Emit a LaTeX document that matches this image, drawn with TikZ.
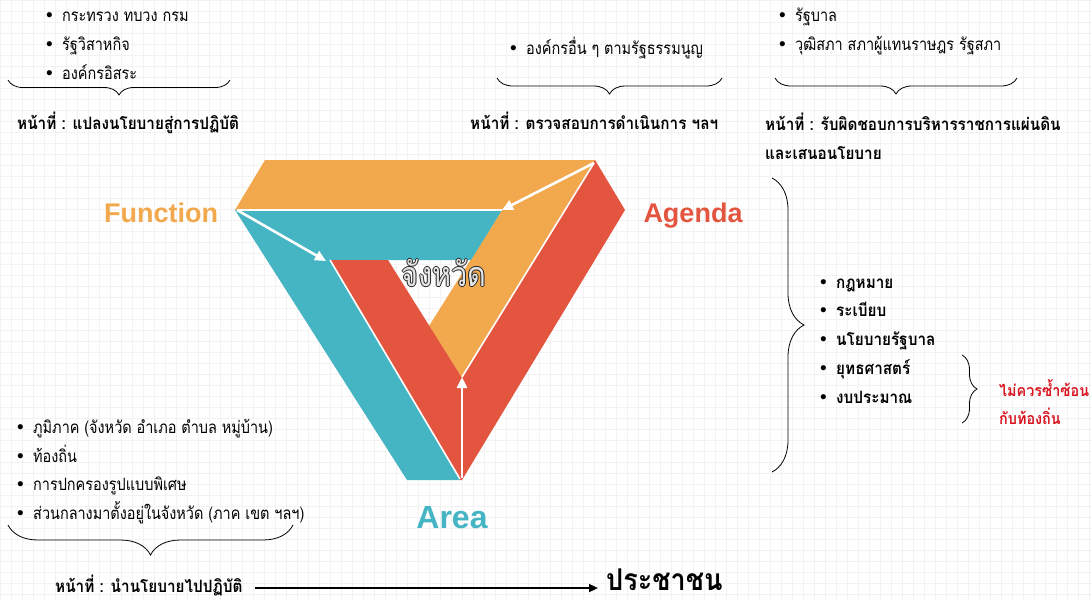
\documentclass[tikz,border=0pt]{standalone}
\usepackage{fontspec}
\newfontfamily\thai[Script=Thai,FakeStretch=0.85]{Loma}
\newfontfamily\thaib[Script=Thai,FakeStretch=0.9]{Loma Bold}
\newfontfamily\lat{Liberation Sans}
\usetikzlibrary{decorations.pathreplacing,arrows.meta}
\definecolor{triO}{HTML}{F2A94E}
\definecolor{triT}{HTML}{45B5C4}
\definecolor{triR}{HTML}{E4553F}
\definecolor{warnred}{HTML}{D9141E}
\newcommand\outlinedtext[1]{\leavevmode
  \rlap{\color{black!85}\kern-0.9pt #1}%
  \rlap{\color{black!85}\kern0.9pt #1}%
  \rlap{\color{black!85}\raisebox{0.9pt}{#1}}%
  \rlap{\color{black!85}\raisebox{-0.9pt}{#1}}%
  {\color{black!10}#1}}
\newcommand\bul{\makebox[16pt][l]{\lat\fontsize{19}{20}\selectfont •}}
\begin{document}
\begin{tikzpicture}[x=1pt,y=-1pt,
  item/.style={anchor=base west, inner sep=0pt, font=\thai\fontsize{17}{20}\selectfont},
  bitem/.style={item, font=\thaib\fontsize{17}{20}\selectfont},
  head/.style={anchor=base west, inner sep=0pt, font=\thaib\fontsize{17}{20}\selectfont},
  brc/.style={decorate, decoration={brace, amplitude=#1}, line width=0.8pt, black},
  sep/.style={white, line width=1.6pt},
  warr/.style={white, line width=2.6pt, -{Triangle[length=11pt,width=10pt]}},
  lbl/.style={font=\lat\bfseries\fontsize{27}{30}\selectfont, inner sep=0pt}
]
\useasboundingbox (0,0) rectangle (1092,600);
\fill[white] (0,0) rectangle (1092,600);
\foreach \gx in {0,11,...,1092} {\draw[black!5, line width=0.6pt] (\gx,0) -- (\gx,600);}
\foreach \gy in {0,11,...,600} {\draw[black!5, line width=0.6pt] (0,\gy) -- (1092,\gy);}

% ---- triangle
\fill[triO] (235,210) -- (265,160) -- (595,160) -- (462,378) -- (429,326) -- (502,210) -- cycle;
\fill[triT] (235,210) -- (502,210) -- (471,260) -- (330,260) -- (460,480) -- (407,480) -- cycle;
\fill[triR] (330,260) -- (388,260) -- (462,378) -- (595,160) -- (625,210) -- (462,480) -- (460,480) -- cycle;
\coordinate (fv) at (237,210);
\coordinate (fm) at (502,210);
\coordinate (ftip) at (326,261);
\coordinate (av) at (594,163);
\coordinate (gv) at (462,478);
\coordinate (gtip) at (462,377);
\draw[sep] (fv) -- (fm);
\draw[sep] (330,260) -- (460,479);
\draw[sep] (av) -- (gtip);
\draw[warr] (fv) -- (ftip);
\draw[warr] (av) -- (fm);
\draw[warr] (gv) -- (gtip);

\node[font=\thai\fontsize{34}{36}\selectfont, inner sep=0pt] (jw) at (444,273) {\outlinedtext{จังหวัด}};

\node[lbl, text=triO] (fn) at (161,213) {Function};
\node[lbl, text=triR] (ag) at (693,216) {Agenda};
\node[lbl, text=triT, font=\lat\bfseries\fontsize{32}{34}\selectfont] (ar) at (452,518) {Area};

% ---- top left
\node[item] (tl1) at (46,21) {\bul กระทรวง ทบวง กรม};
\node[item] (tl2) at (46,50) {\bul รัฐวิสาหกิจ};
\node[item] (tl3) at (46,79) {\bul องค์กรอิสระ};
\draw[brc=15pt] (230,80) -- (8,80);
\node[head] (h1) at (17,129) {หน้าที่ : แปลงนโยบายสู่การปฏิบัติ};

% ---- top middle
\node[item] (tm1) at (510,54) {\bul องค์กรอื่น ๆ ตามรัฐธรรมนูญ};
\draw[brc=16pt] (722,78) -- (497,78);
\node[head] (h2) at (470,129) {หน้าที่ : ตรวจสอบการดำเนินการ ฯลฯ};

% ---- top right
\node[item] (tr1) at (779,21) {\bul รัฐบาล};
\node[item] (tr2) at (779,50) {\bul วุฒิสภา สภาผู้แทนราษฎร รัฐสภา};
\draw[brc=16pt] (1017,78) -- (775,78);
\node[head] (h3) at (765,130) {หน้าที่ : รับผิดชอบการบริหารราชการแผ่นดิน};
\node[head] (h3b) at (765,159) {และเสนอนโยบาย};

% ---- right side
\draw[brc=32pt] (772,178) -- (772,472);
\node[bitem] (r1) at (820,288) {\bul กฎหมาย};
\node[bitem] (r2) at (820,316) {\bul ระเบียบ};
\node[bitem] (r3) at (820,345) {\bul นโยบายรัฐบาล};
\node[bitem] (r4) at (820,374) {\bul ยุทธศาสตร์};
\node[bitem] (r5) at (820,403) {\bul งบประมาณ};
\draw[brc=15pt] (962,355) -- (962,423);
\node[head, text=warnred, font=\thaib\fontsize{16}{20}\selectfont] (w1) at (999,396) {ไม่ควรซ้ำซ้อน};
\node[head, text=warnred, font=\thaib\fontsize{16}{20}\selectfont] (w2) at (999,424) {กับท้องถิ่น};

% ---- bottom left
\node[item] (b1) at (17,433) {\bul ภูมิภาค (จังหวัด อำเภอ ตำบล หมู่บ้าน)};
\node[item] (b2) at (17,462) {\bul ท้องถิ่น};
\node[item] (b3) at (17,490) {\bul การปกครองรูปแบบพิเศษ};
\node[item] (b4) at (17,519) {\bul ส่วนกลางมาตั้งอยู่ในจังหวัด (ภาค เขต ฯลฯ)};
\draw[brc=30pt] (293,525) -- (8,525);
\node[head] (h4) at (55,592) {หน้าที่ : นำนโยบายไปปฏิบัติ};
\node[anchor=base west, inner sep=0pt, font=\thaib\fontsize{30}{33}\selectfont] (pc) at (606,590) {ประชาชน};
\draw[line width=1.6pt, -{Triangle[length=9pt,width=8pt]}] (h4.east) ++(12,3) coordinate (hs) -- ([xshift=-8pt]pc.west |- hs);
\end{tikzpicture}
\end{document}
